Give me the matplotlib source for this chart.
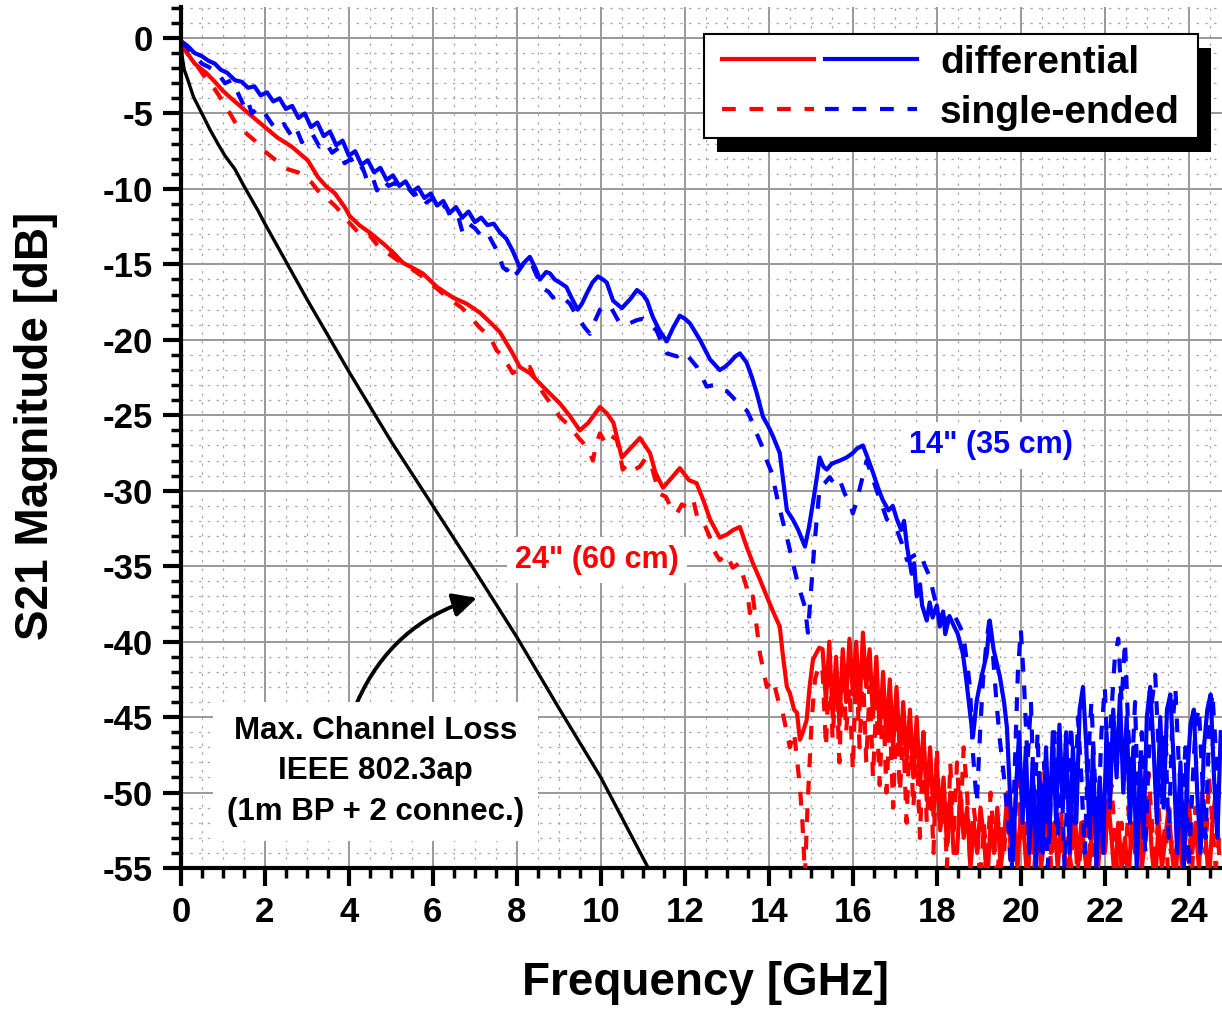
import numpy as np
import matplotlib
matplotlib.use('Agg')
from matplotlib import pyplot as plt
from matplotlib.ticker import MultipleLocator
from matplotlib.legend_handler import HandlerTuple
from matplotlib.patches import Rectangle
from matplotlib.transforms import IdentityTransform

plt.rcParams['font.family'] = ['Liberation Sans', 'DejaVu Sans']
plt.rcParams['font.weight'] = 'bold'
plt.rcParams['axes.unicode_minus'] = False

# IEEE 802.3ap max channel loss
ieee_f = [0.0, 0.03, 0.08, 0.17, 0.3, 0.5, 0.7, 0.88, 1.05, 1.29, 1.5, 1.83, 2.0, 2.5, 3.0,
          4.0, 5.0, 6.0, 7.0, 8.0, 9.0, 10.0, 11.13]
ieee_db = [0.0, -1.2, -2.1, -2.8, -3.9, -5.0, -6.1, -7.0, -7.8, -8.7, -9.8, -11.4, -12.3, -14.8, -17.3,
           -22.1, -26.7, -31.0, -35.3, -39.7, -44.4, -49.0, -55.0]

# 24" (60 cm) differential
r_diff_f = [0.0, 0.33, 0.6, 0.81, 1.0, 1.2, 1.45, 1.7, 2.0, 2.3, 2.64, 2.85, 3.02, 3.15, 3.26, 3.45,
            3.67, 3.9, 4.02, 4.25, 4.5, 4.81, 5.05, 5.29, 5.5, 5.76, 6.1, 6.48, 6.8, 7.12, 7.35,
            7.6, 7.9, 8.07, 8.31, 8.62, 9.02, 9.25, 9.5, 9.7, 9.98, 10.15, 10.3, 10.5, 10.7,
            10.93, 11.17, 11.3, 11.48, 11.7, 11.88, 12.1, 12.28, 12.45, 12.6, 12.83, 13.0,
            13.15, 13.31, 13.47, 13.62, 13.79, 13.95, 14.1, 14.26, 14.33, 14.43, 14.5, 14.6,
            14.67, 14.74, 14.81, 14.9, 14.97, 15.05, 15.2]
r_diff_db = [-0.4, -1.7, -2.3, -2.9, -3.5, -4.0, -4.6, -5.2, -5.9, -6.6, -7.2, -7.7, -8.1, -8.7,
             -9.2, -9.8, -10.3, -11.2, -11.8, -12.4, -12.9, -13.6, -14.2, -14.9, -15.2, -15.6,
             -16.5, -17.2, -17.6, -18.2, -18.8, -19.5, -20.9, -21.8, -22.2, -23.1, -24.2, -25.0,
             -26.0, -25.5, -24.45, -24.9, -25.5, -27.8, -27.2, -26.5, -27.5, -28.8, -29.8, -29.1,
             -28.5, -29.3, -29.5, -30.7, -31.9, -33.1, -32.9, -32.6, -32.4, -33.7, -34.8, -35.9,
             -37.0, -38.0, -39.0, -40.8, -43.0, -43.4, -44.5, -44.7, -46.5, -46.0, -45.2, -43.0,
             -41.2, -40.4]
r_diff_tail_start = 15.28
r_diff_tail = [-40.5, -44, -40, -45, -41, -45.5, -40.5, -44, -39.8, -43.5,
               -40, -44.5, -39.4, -43, -40.5, -45, -41, -46, -42, -46.5,
               -42.5, -47, -43, -47.5, -44, -48, -44.5, -49, -45, -49.5,
               -46, -50.5, -47, -51.5, -48, -52.5, -49, -53.5, -50, -54,
               -54, -50, -53, -51, -55, -52, -54, -51, -53, -56,
               -52, -54, -51, -55, -53, -50, -54, -52, -55, -51,
               -53, -56, -52, -54, -51, -55, -53, -50.5, -54, -52,
               -55, -52, -54, -56, -53, -51, -55, -52, -54, -56,
               -53, -51, -55, -52, -54, -50.5, -53, -56, -52, -55,
               -53, -56, -52, -54, -51, -55, -53, -50.5, -54, -56,
               -52, -55, -53, -51, -54, -56, -52, -55, -53, -50.5,
               -54, -52, -55, -51, -53, -56, -52, -50, -54]

# 24" (60 cm) single-ended
r_se_f = [0.0, 0.2, 0.4, 0.6, 0.81, 1.0, 1.21, 1.36, 1.55, 1.76, 1.95, 2.17, 2.35, 2.55, 2.79,
          2.95, 3.12, 3.26, 3.4, 3.55, 3.7, 3.85, 4.0, 4.2, 4.33, 4.5, 4.7, 4.9, 5.1, 5.3, 5.5,
          5.7, 5.9, 6.1, 6.3, 6.5, 6.7, 6.9, 7.12, 7.36, 7.52, 7.67, 7.9, 8.14, 8.31, 8.45,
          8.62, 8.8, 9.02, 9.25, 9.5, 9.57, 9.74, 9.81, 9.9, 9.98, 10.1, 10.2, 10.38, 10.45,
          10.52, 10.65, 10.8, 10.93, 11.05, 11.17, 11.3, 11.4, 11.55, 11.7, 11.81, 11.93, 12.05,
          12.2, 12.3, 12.43, 12.6, 12.7, 12.83, 13.0, 13.14, 13.3, 13.47, 13.55, 13.62, 13.79,
          13.95, 14.1, 14.26, 14.33, 14.5, 14.6, 14.74, 14.8, 14.86, 14.92, 15.02, 15.1, 15.2]
r_se_db = [-0.4, -1.2, -1.9, -2.7, -3.4, -4.2, -5.2, -5.9, -6.3, -6.8, -7.4, -7.9, -8.3, -8.7,
           -8.9, -9.2, -9.6, -10.1, -10.5, -10.8, -11.2, -11.7, -12.2, -12.8, -13.2, -13.1, -13.8,
           -14.2, -14.6, -15.0, -15.3, -15.7, -16.2, -16.6, -17.1, -17.5, -17.9, -18.5, -19.2,
           -19.8, -20.7, -21.1, -22.2, -21.8, -21.8, -22.7, -23.5, -24.2, -25.1, -25.7, -26.6,
           -26.8, -27.5, -28.0, -26.8, -26.2, -26.8, -26.3, -26.6, -27.5, -28.6, -28.2, -28.6,
           -28.4, -27.9, -28.0, -29.3, -30.2, -30.4, -31.3, -31.5, -30.9, -31.1, -30.6, -31.8,
           -32.0, -33.1, -34.0, -34.6, -34.2, -35.1, -34.8, -36.4, -38.1, -37.0, -40.8, -43.0,
           -42.5, -44.3, -44.7, -47.0, -46.0, -49.6, -52.0, -55.5, -51.0, -45.2, -42.5, -41.5]
r_se_tail_start = 15.28
r_se_tail = [-42, -47, -41.5, -46.5, -42, -48, -41, -46, -43, -48.5,
             -41.5, -47, -42, -48, -43, -49, -44, -49.5, -43.5, -50,
             -45, -51, -44.5, -50, -46, -52, -45.5, -51, -47, -53,
             -46, -52, -48, -54, -47, -52.5, -49, -55, -48, -53,
             -48, -52, -47, -50, -55, -51, -53, -56, -52, -55,
             -50, -53, -56, -52, -54, -51, -55, -52, -49, -53,
             -50, -54, -51, -55, -52, -48.5, -53, -50, -55, -52,
             -54, -51, -56, -53, -55, -52, -56, -53, -51.5, -55,
             -52, -56, -53, -50, -54, -51, -49.5, -53, -56, -52,
             -55, -51, -54, -52, -56, -50, -53, -48.7, -52, -55,
             -51, -54, -52, -56, -53, -55, -51.4, -54, -56, -52,
             -55, -51, -53, -50, -54, -49, -52, -55, -53]

# 14" (35 cm) differential
b_diff_f = [0.0, 0.15, 0.33, 0.5, 0.65, 0.81, 0.95, 1.1, 1.29, 1.45, 1.6, 1.75, 1.9, 2.05, 2.2,
            2.35, 2.5, 2.65, 2.8, 2.95, 3.1, 3.25, 3.4, 3.55, 3.7, 3.85, 4.0, 4.15, 4.3, 4.45,
            4.6, 4.75, 4.9, 5.05, 5.2, 5.35, 5.5, 5.65, 5.8, 5.95, 6.1, 6.25, 6.4, 6.55, 6.7,
            6.85, 7.0, 7.15, 7.3, 7.45, 7.6, 7.75, 7.9, 8.07, 8.2, 8.31, 8.45, 8.55, 8.7, 8.79,
            8.9, 9.02, 9.18, 9.3, 9.45, 9.55, 9.67, 9.8, 9.93, 10.05, 10.14, 10.29, 10.5, 10.7,
            10.86, 11.0, 11.1, 11.24, 11.4, 11.57, 11.72, 11.88, 12.0, 12.12, 12.36, 12.6,
            12.83, 12.95, 13.07, 13.2, 13.31, 13.47, 13.6, 13.71, 13.86, 14.0, 14.1, 14.26,
            14.35, 14.43, 14.57, 14.7, 14.86, 14.95, 15.05, 15.15, 15.21, 15.3, 15.38, 15.5,
            15.69, 15.85, 16.0, 16.1, 16.24, 16.35, 16.48, 16.6, 16.71, 16.85, 16.95, 17.05,
            17.15, 17.22, 17.29, 17.4, 17.46, 17.52, 17.6, 17.65, 17.76, 17.83, 17.9, 18.0,
            18.07, 18.15, 18.2, 18.3, 18.38, 18.5, 18.62, 18.7, 18.79, 18.86, 18.95, 19.05,
            19.19, 19.26, 19.35, 19.5, 19.6, 19.67, 19.74, 19.81]
b_diff_db = [-0.2, -0.5, -1.0, -1.2, -1.5, -1.7, -2.1, -2.3, -2.8, -2.9, -3.3, -3.2, -3.8, -3.6,
             -4.2, -4.0, -4.7, -4.5, -5.3, -5.0, -5.9, -5.6, -6.5, -6.2, -7.1, -6.8, -7.8, -7.5,
             -8.4, -8.1, -8.9, -8.6, -9.4, -9.1, -9.8, -9.5, -10.2, -9.9, -10.6, -10.3, -11.1,
             -10.8, -11.6, -11.2, -11.9, -11.5, -12.2, -11.9, -12.4, -12.3, -12.9, -13.3, -14.1,
             -15.2, -14.8, -14.5, -15.3, -16.0, -15.5, -15.6, -16.0, -16.2, -16.5, -17.2, -18.0,
             -17.6, -16.9, -16.2, -15.8, -16.0, -16.2, -17.4, -17.9, -17.3, -16.7, -17.0, -17.4,
             -18.5, -19.4, -20.1, -19.2, -18.4, -18.6, -18.9, -20.0, -21.3, -22.0, -21.8, -21.5,
             -21.1, -20.9, -21.5, -22.5, -23.5, -25.1, -25.8, -26.4, -27.5, -29.5, -31.3, -31.9,
             -32.6, -33.7, -32.5, -30.8, -29.0, -27.8, -28.4, -28.6, -28.2, -28.0, -27.8, -27.5,
             -27.2, -27.0, -27.8, -28.8, -29.8, -30.6, -31.3, -31.0, -31.9, -32.6, -32.0, -33.7,
             -35.5, -34.8, -37.0, -36.2, -37.6, -38.6, -37.4, -38.4, -37.6, -39.0, -38.0, -39.5,
             -38.3, -38.8, -39.5, -40.8, -42.5, -44.7, -46.3, -43.9, -42.5, -40.8, -38.6, -40.5,
             -42.3, -44.0, -45.7, -50.0, -54.5]
b_diff_tail_start = 19.88
b_diff_tail = [-50, -46, -52, -47, -54, -48, -55, -49, -54, -47,
               -53, -46, -52, -45.5, -51, -46, -54, -47, -52, -44.5,
               -43, -47, -53, -47, -55, -49, -54, -46, -51, -44.5,
               -49, -43.5, -50, -45, -52, -47, -55, -48, -53, -45,
               -43, -47, -52, -45, -51, -44.5, -43.5, -48, -54, -48,
               -55, -49, -45.5, -44.5, -50, -54, -47, -44.5, -43.5, -49,
               -53, -46]

# 14" (35 cm) single-ended
b_se_f = [0.0, 0.2, 0.35, 0.5, 0.65, 0.88, 1.05, 1.2, 1.35, 1.52, 1.6, 1.69, 1.85, 2.0, 2.17,
          2.31, 2.45, 2.64, 2.75, 2.88, 3.0, 3.12, 3.3, 3.45, 3.6, 3.75, 3.9, 4.05, 4.2, 4.33,
          4.43, 4.55, 4.67, 4.8, 4.95, 5.1, 5.25, 5.4, 5.55, 5.7, 5.85, 6.0, 6.15, 6.3, 6.45,
          6.6, 6.71, 6.85, 7.0, 7.12, 7.28, 7.43, 7.55, 7.67, 7.76, 7.9, 8.0, 8.15, 8.31, 8.45,
          8.62, 8.75, 8.86, 9.0, 9.1, 9.26, 9.4, 9.5, 9.62, 9.74, 9.85, 9.98, 10.1, 10.21,
          10.33, 10.45, 10.57, 10.69, 10.85, 11.0, 11.15, 11.33, 11.45, 11.57, 11.7, 11.81,
          11.93, 12.05, 12.17, 12.29, 12.4, 12.52, 12.68, 12.83, 13.0, 13.14, 13.3, 13.48,
          13.6, 13.71, 13.83, 13.95, 14.07, 14.2, 14.33, 14.43, 14.55, 14.67, 14.76, 14.86,
          14.93, 14.98, 15.02, 15.08, 15.14, 15.21, 15.33, 15.45, 15.57, 15.69, 15.81, 15.93,
          16.0, 16.08, 16.17, 16.25, 16.33, 16.45, 16.57, 16.7, 16.81, 16.93, 17.05, 17.17,
          17.29, 17.45, 17.6, 17.72, 17.83, 17.92, 18.0, 18.12, 18.24, 18.36, 18.48, 18.62,
          18.7, 18.79, 18.86, 18.95, 19.03, 19.1, 19.19, 19.26, 19.34, 19.42, 19.5, 19.6, 19.7,
          19.78, 19.86, 19.93, 20.0]
b_se_db = [-0.2, -0.8, -1.2, -1.7, -1.9, -2.3, -3.0, -2.8, -3.6, -4.6, -4.2, -5.0, -4.6, -5.0,
           -5.7, -6.1, -5.7, -6.5, -6.0, -6.9, -6.5, -6.3, -7.2, -6.9, -7.6, -7.3, -8.3, -8.0,
           -8.8, -8.6, -9.4, -9.1, -10.1, -9.4, -9.8, -9.6, -10.1, -9.9, -10.4, -10.2, -10.9,
           -10.6, -11.4, -11.1, -12.0, -11.8, -12.9, -12.3, -12.6, -13.0, -12.8, -13.6, -14.2,
           -15.2, -15.4, -15.0, -15.6, -15.0, -14.7, -15.6, -16.6, -16.8, -17.2, -17.0, -17.2,
           -17.6, -18.3, -18.7, -19.2, -19.6, -18.8, -18.0, -17.8, -17.7, -18.3, -18.9, -18.8,
           -18.9, -18.7, -18.6, -18.9, -19.4, -20.2, -20.9, -21.0, -21.1, -20.8, -21.0, -21.4,
           -21.8, -22.4, -23.1, -23.0, -23.3, -23.4, -23.8, -24.3, -24.7, -25.4, -26.2, -27.0,
           -28.0, -28.8, -30.5, -32.0, -33.1, -34.5, -35.9, -36.8, -37.7, -39.4, -37.5, -35.9,
           -33.8, -31.9, -29.8, -29.5, -29.1, -29.6, -29.3, -30.2, -30.8, -31.5, -30.8, -29.8,
           -28.9, -28.0, -29.0, -30.0, -31.0, -31.9, -32.2, -32.6, -33.5, -34.6, -34.3, -34.1,
           -35.0, -35.7, -36.8, -37.7, -38.2, -38.6, -38.0, -38.6, -39.4, -41.0, -43.0, -47.4,
           -50.7, -46.0, -42.5, -39.8, -38.4, -41.0, -44.0, -46.5, -49.0, -52.0, -55.5, -48.0,
           -42.0, -39.2]
b_se_tail_start = 20.08
b_se_tail = [-43, -48, -44, -51, -46, -54, -48, -55, -50, -46,
             -53, -48, -55, -49, -45.5, -52, -45, -49, -54, -48,
             -44, -49, -52, -46, -43, -49, -44.5, -41, -39.8, -44,
             -40, -46, -49, -44, -52, -46, -54, -48, -44, -42.2,
             -47, -51, -46, -53, -46, -43.1, -48, -51, -47, -55,
             -50, -45.5, -44.4, -49, -53, -46, -43.4, -47, -51]
tail_step = 0.08

x_ticks = list(range(0, 25, 2))
y_ticks = list(range(-55, 1, 5))


def full(f, db, start, tail):
    tail_f = start + tail_step * np.arange(len(tail))
    return np.concatenate([f, tail_f]), np.concatenate([db, tail])


fig = plt.figure(figsize=(12.22, 10.11), dpi=100)
ax = fig.add_axes([0.148, 0.1414, 0.852, 0.8516])

dash = (0, (3.3, 3.3))
lw = 3.0
rdx, rdy = full(r_diff_f, r_diff_db, r_diff_tail_start, r_diff_tail)
rsx, rsy = full(r_se_f, r_se_db, r_se_tail_start, r_se_tail)
bdx, bdy = full(b_diff_f, b_diff_db, b_diff_tail_start, b_diff_tail)
bsx, bsy = full(b_se_f, b_se_db, b_se_tail_start, b_se_tail)

l_rs, = ax.plot(rsx, rsy, color='#ff0000', lw=lw, ls=dash, zorder=3)
l_rd, = ax.plot(rdx, rdy, color='#ff0000', lw=lw, zorder=3)
l_bs, = ax.plot(bsx, bsy, color='#0000ff', lw=lw, ls=dash, zorder=3)
l_bd, = ax.plot(bdx, bdy, color='#0000ff', lw=lw, zorder=3)
ax.plot(ieee_f, ieee_db, color='black', lw=2.4, zorder=3)

ax.set_xlim(0, 24.79)
ax.set_ylim(-55, 2.05)
ax.set_xticks(x_ticks)
ax.set_yticks(y_ticks)
ax.xaxis.set_minor_locator(MultipleLocator(0.5))
ax.yaxis.set_minor_locator(MultipleLocator(1))
ax.grid(which='major', color='#999999', lw=1.4, zorder=0)
ax.grid(which='minor', color='#aaaaaa', lw=0.9, ls=(0, (2, 5)), zorder=0)
ax.set_axisbelow(True)
for s in ['top', 'right']:
    ax.spines[s].set_visible(False)
for s in ['left', 'bottom']:
    ax.spines[s].set_linewidth(3)
ax.tick_params(which='major', direction='out', length=13, width=3, pad=7, labelsize=25)
ax.tick_params(which='minor', direction='out', length=7, width=2.5)

ax.set_xlabel('Frequency [GHz]', fontsize=33, fontweight='bold')
ax.set_ylabel('S21 Magnitude [dB]', fontsize=33, fontweight='bold')
ax.xaxis.set_label_coords(0.504, -0.108)
ax.yaxis.set_label_coords(-0.118, 0.514)

box = dict(facecolor='white', edgecolor='none', pad=6)
ax.text(9.9, -34.6, '24" (60 cm)', color='#ff0000', fontsize=22, fontweight='bold',
        ha='center', va='center', bbox=box, zorder=4)
ax.text(19.3, -27.0, '14" (35 cm)', color='#0000ff', fontsize=22, fontweight='bold',
        ha='center', va='center', bbox=box, zorder=4)
ax.annotate('Max. Channel Loss\nIEEE 802.3ap\n(1m BP + 2 connec.)',
            xy=(7.05, -37.1), xytext=(4.63, -48.6),
            fontsize=22.5, fontweight='bold', ha='center', va='center', linespacing=1.45,
            bbox=dict(facecolor='white', edgecolor='none', pad=10), zorder=4,
            arrowprops=dict(arrowstyle='-|>', color='black', lw=2.8, mutation_scale=36,
                            connectionstyle='arc3,rad=-0.25', shrinkA=0, shrinkB=0,
                            relpos=(0.42, 1.0)))

# legend frame and its offset black shadow, in figure pixels
frame_x0, frame_y0, frame_w, frame_h = 704, 1011 - 138, 494, 104
ax.add_patch(Rectangle((frame_x0 + 13, frame_y0 - 14), frame_w, frame_h,
                       transform=IdentityTransform(), facecolor='black', edgecolor='none',
                       zorder=5.4, clip_on=False))
ax.add_patch(Rectangle((frame_x0, frame_y0), frame_w, frame_h,
                       transform=IdentityTransform(), facecolor='white', edgecolor='black',
                       lw=1.5, zorder=5.5, clip_on=False))

leg = ax.legend([(l_rd, l_bd), (l_rs, l_bs)], ['differential', 'single-ended'],
                handler_map={tuple: HandlerTuple(ndivide=None, pad=0.27)},
                loc='center', bbox_to_anchor=((frame_x0 + frame_w / 2) / 1222,
                                              (frame_y0 + frame_h / 2 - 2) / 1011),
                bbox_transform=fig.transFigure, borderaxespad=0, borderpad=0,
                fontsize=28, handlelength=5.0, handletextpad=0.6,
                labelspacing=0.36, frameon=False)
leg.set_zorder(6)

fig.savefig('out.png', dpi=100)
